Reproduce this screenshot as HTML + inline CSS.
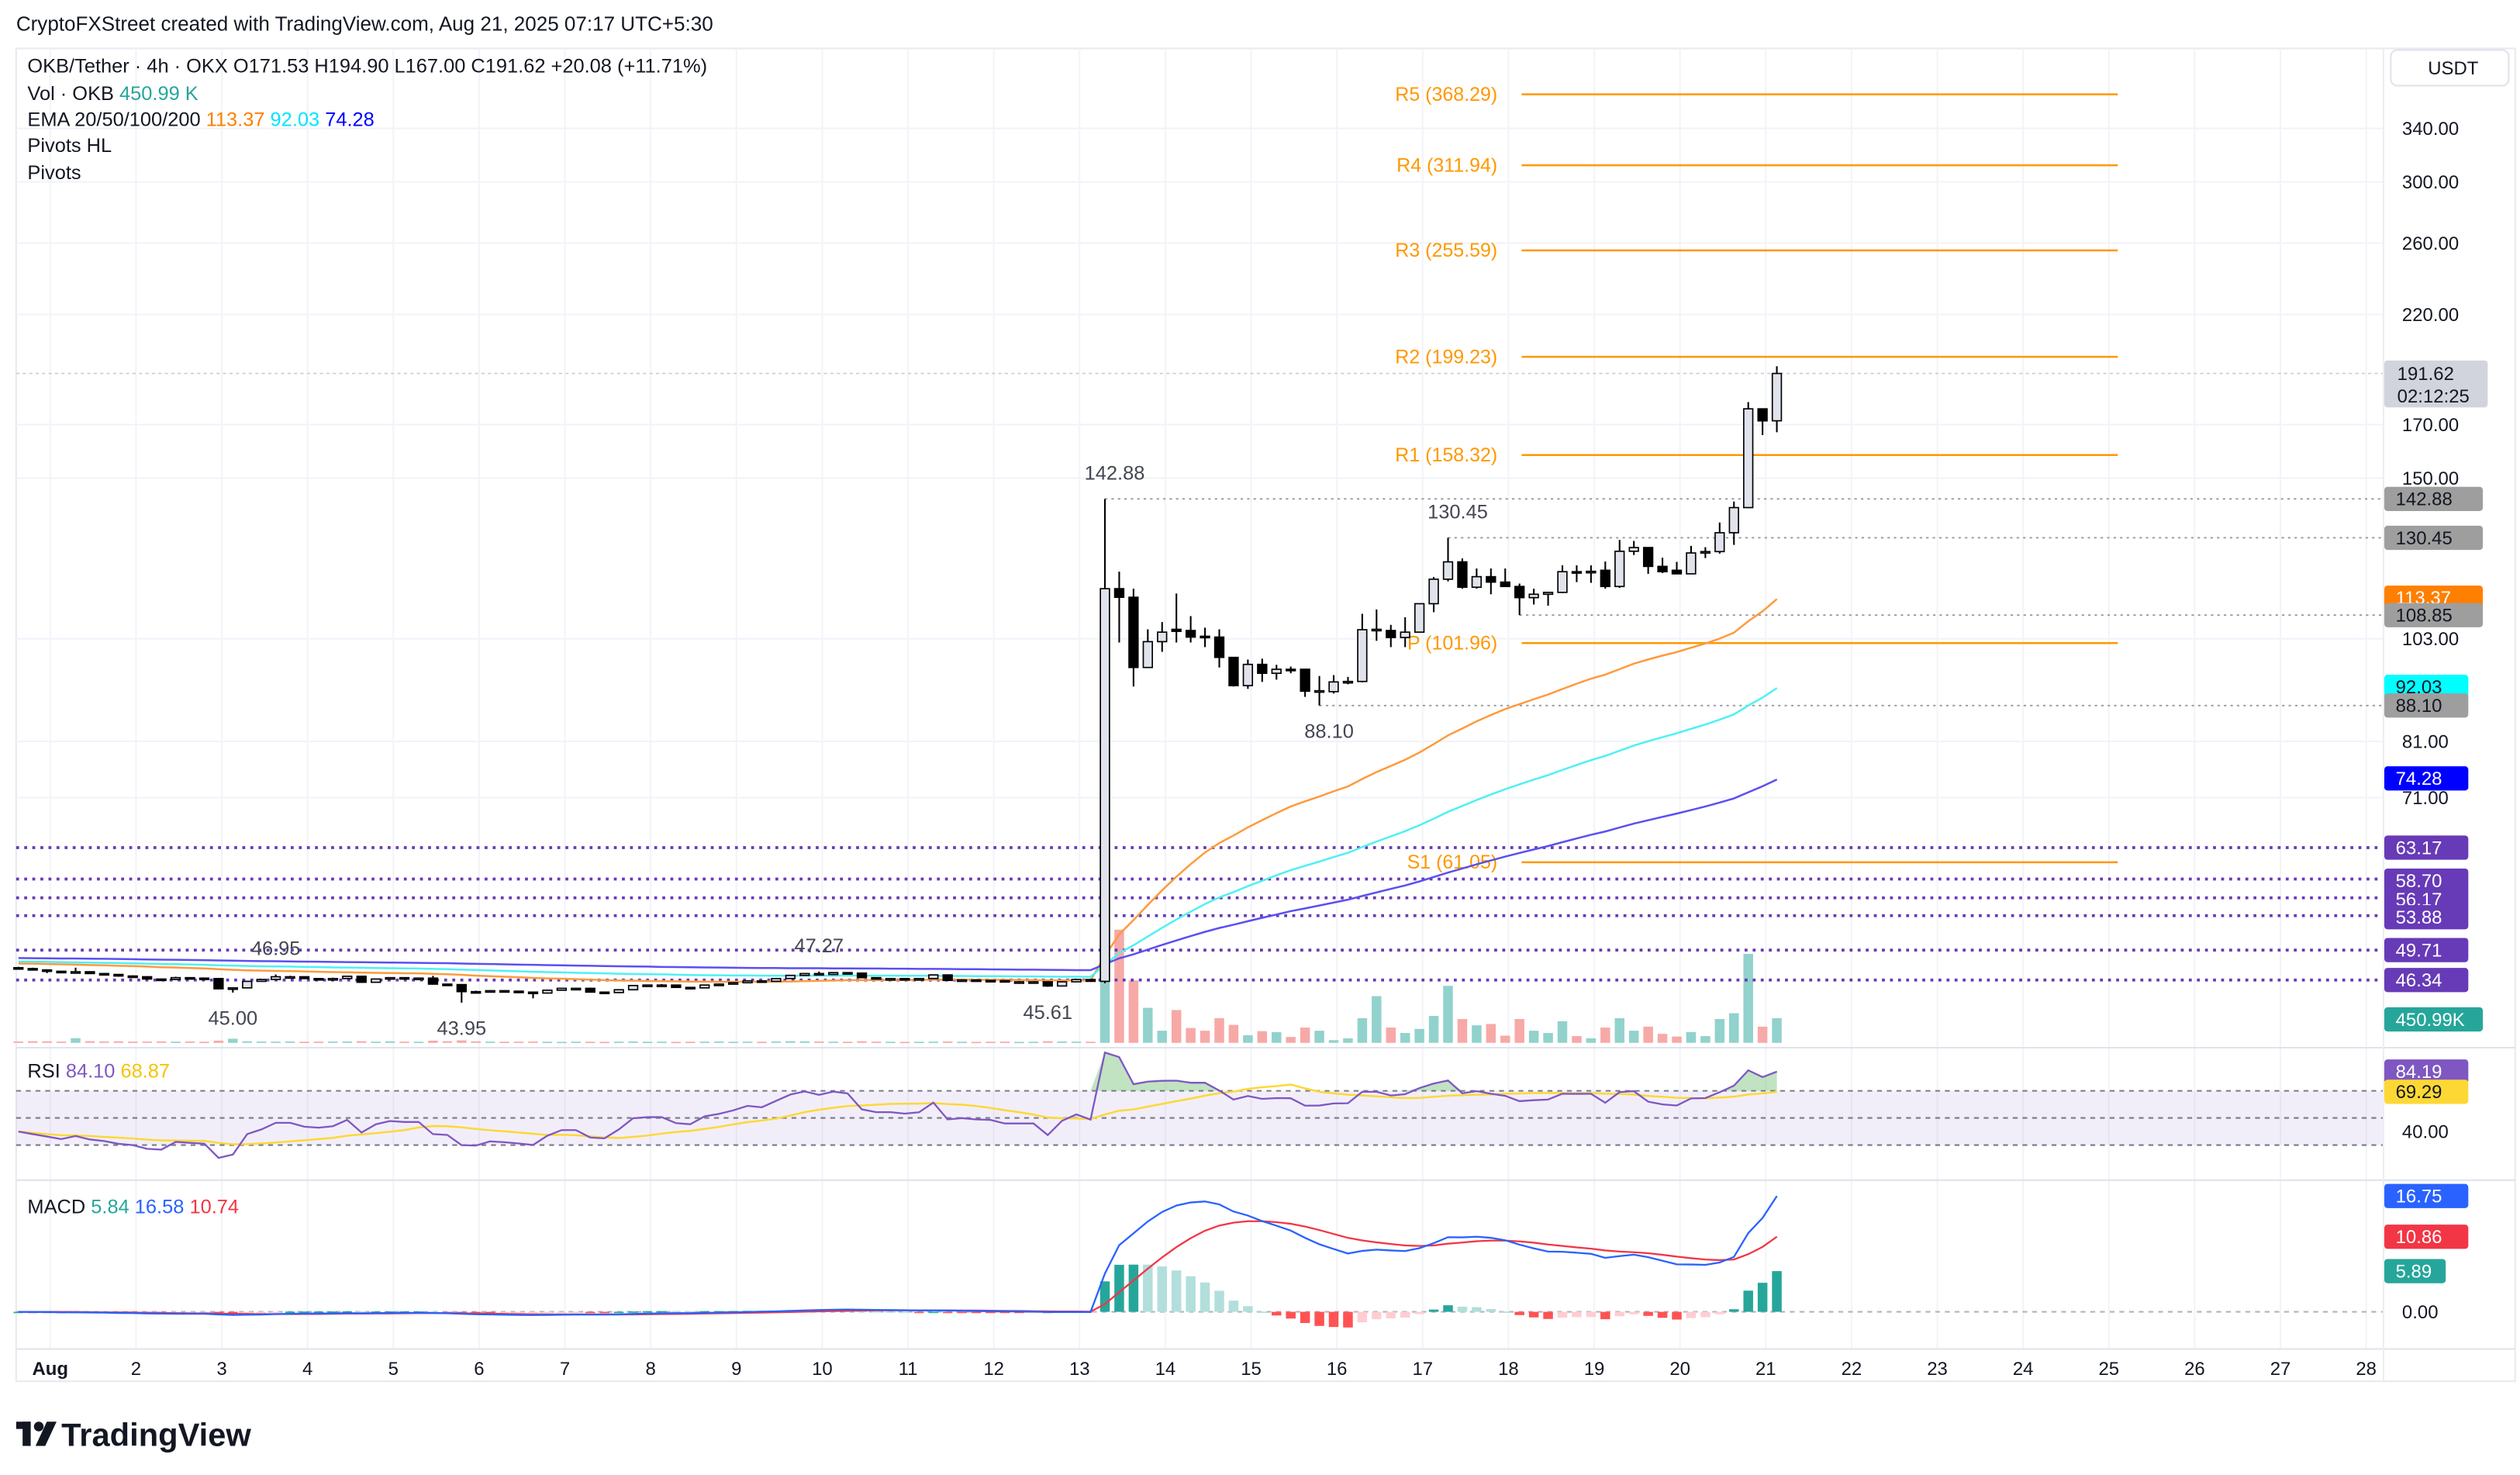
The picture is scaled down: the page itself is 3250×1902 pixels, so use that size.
<!DOCTYPE html>
<html><head><meta charset="utf-8"><style>
html,body{margin:0;padding:0;background:#fff;}
svg{display:block;font-family:"Liberation Sans",Arial,sans-serif;}
</style></head><body>
<svg id="chart" xmlns="http://www.w3.org/2000/svg" width="3250" height="1902" viewBox="0 0 1560 913" preserveAspectRatio="none">
<rect x="0" y="0" width="1560" height="913" fill="#ffffff"/>
<text x="10" y="19" font-size="12.5" fill="#131722">CryptoFXStreet created with TradingView.com, Aug 21, 2025 07:17 UTC+5:30</text>
<rect x="10" y="30" width="1547" height="825" fill="none" stroke="#e8eaf0" stroke-width="1"/>
<g id="grid"></g>
<g id="main"></g>
<g id="rsi"></g>
<g id="macd"></g>
<g id="axis"></g>
<g id="legend" font-size="12.2" fill="#131722">
<text x="17" y="45">OKB/Tether · 4h · OKX  O171.53  H194.90  L167.00  C191.62  +20.08 (+11.71%)</text>
<text x="17" y="62">Vol · OKB <tspan fill="#26a69a">450.99 K</tspan></text>
<text x="17" y="78">EMA 20/50/100/200 <tspan fill="#ff7f00">113.37</tspan> <tspan fill="#00e5ff">92.03</tspan> <tspan fill="#0000ff">74.28</tspan></text>
<text x="17" y="94">Pivots HL</text>
<text x="17" y="111">Pivots</text>
<text x="17" y="667">RSI <tspan fill="#7e57c2">84.10</tspan> <tspan fill="#f5c400">68.87</tspan></text>
<text x="17" y="751">MACD <tspan fill="#26a69a">5.84</tspan> <tspan fill="#2962ff">16.58</tspan> <tspan fill="#f23645">10.74</tspan></text>
</g>
<g>
<rect x="10" y="880" width="9" height="4.5" fill="#131722"/><rect x="14" y="880" width="5" height="15" fill="#131722"/>
<circle cx="24" cy="883" r="3" fill="#131722"/><polygon points="29,880 35,880 28,895 22,895" fill="#131722"/>
<text x="38" y="895" font-size="20" font-weight="bold" fill="#131722">TradingView</text>
</g>
<rect x="1480" y="31" width="73" height="22" rx="4" fill="#fff" stroke="#e0e3eb"/>
<text x="1503" y="46" font-size="11.5" fill="#131722">USDT</text>
</svg>
<script>
// ---- data ----
const preOpens=[47.7,47.6,47.45,47.3,47.15,47.25,47.05,46.95,46.78,46.7,46.45,46.4,46.6,46.55,46.5,45.4,45.5,46.2,46.4,46.7,46.7,46.5,46.45,46.5,46.75,46.1,46.45,46.6,46.55,46.55,45.9,45.85,45.1,45.05,45.2,45.15,45.05,44.95,45.25,45.45,45.45,45.05,45.0,45.3,45.75,45.8,45.8,45.55,45.5,45.8,45.9,46.05,46.25,46.2,46.5,46.85,47.05,46.95,47.15,47.1,46.6,46.5,46.5,46.45,46.5,46.9,46.3,46.35,46.3,46.28,46.15,46.15,46.15,45.7,46.15,46.4];
const preHighs=[47.8,47.7,47.5,47.35,47.7,47.3,47.1,47.0,46.85,46.75,46.5,46.7,46.65,46.6,46.5,45.55,46.25,46.45,46.95,46.8,46.75,46.55,46.6,46.8,46.8,46.5,46.65,46.65,46.6,46.8,45.95,45.9,45.2,45.25,45.25,45.2,45.1,45.3,45.5,45.5,45.5,45.1,45.35,45.8,45.85,45.9,45.85,45.6,45.85,45.95,46.1,46.3,46.3,46.55,46.9,47.1,47.27,47.2,47.2,47.15,46.65,46.55,46.55,46.55,46.95,46.95,46.4,46.4,46.35,46.3,46.2,46.2,46.2,46.2,46.45,46.45];
const preLows=[47.5,47.4,47.1,47.1,47.1,47.0,46.9,46.7,46.65,46.4,46.35,46.35,46.5,46.45,45.35,45.0,45.45,46.15,46.35,46.65,46.45,46.4,46.4,46.45,46.05,46.05,46.4,46.5,46.5,45.85,45.8,43.95,45.0,45.0,45.1,44.95,44.4,44.9,45.2,45.4,45.0,44.95,44.95,45.25,45.7,45.75,45.5,45.45,45.45,45.75,45.85,46.0,46.15,46.15,46.45,46.8,46.9,46.9,47.05,46.55,46.45,46.45,46.4,46.4,46.45,46.25,46.25,46.25,46.25,46.1,46.1,46.1,45.61,45.65,46.1,46.15];
const preCloses=[47.6,47.45,47.3,47.15,47.25,47.05,46.95,46.78,46.7,46.45,46.4,46.6,46.55,46.5,45.4,45.5,46.2,46.4,46.7,46.7,46.5,46.45,46.5,46.75,46.1,46.45,46.6,46.55,46.55,45.9,45.85,45.1,45.05,45.2,45.15,45.05,44.95,45.25,45.45,45.45,45.05,45.0,45.3,45.75,45.8,45.8,45.55,45.5,45.8,45.9,46.05,46.25,46.2,46.5,46.85,47.05,46.95,47.15,47.1,46.6,46.5,46.5,46.45,46.5,46.9,46.3,46.35,46.3,46.28,46.15,46.15,46.15,45.7,46.15,46.4,46.2];
const preVolumes=[25,30,28,22,85,30,25,28,22,24,26,22,25,20,40,75,28,24,22,25,20,22,24,25,30,22,28,22,20,40,30,45,28,22,20,22,25,20,18,22,20,18,22,25,20,22,18,20,22,25,20,22,20,25,30,28,25,22,20,30,22,20,18,20,22,25,20,18,20,22,18,20,30,25,22,20];
const postOpens=[46.2,115.8,113.5,96.3,102.3,105.3,105.0,103.6,103.4,98.6,92.3,97.0,95.0,95.9,95.9,91.1,91.0,93.1,93.2,105.2,105.0,103.3,104.6,111.8,118.4,123.3,116.2,119.1,117.6,116.4,113.4,114.3,114.8,120.5,120.4,120.9,116.4,126.4,127.5,122.0,120.9,119.9,125.9,126.3,132.0,140.0,176.4,171.53];
const postHighs=[142.88,120.5,115.8,105.3,107.1,114.5,108.6,105.7,105.3,98.6,98.1,98.3,96.9,96.5,96.0,94.4,94.6,94.2,109.2,110.3,106.4,108.3,111.8,119.0,130.45,124.3,121.4,121.4,121.4,117.2,115.8,114.8,122.3,122.3,122.3,123.4,129.8,129.5,127.6,124.5,123.3,128.0,127.6,135.2,142.0,179.2,176.4,194.9];
const postLows=[46.0,102.1,92.1,96.3,99.9,102.1,102.1,101.0,96.3,92.1,91.6,93.1,93.6,95.0,89.9,88.1,90.6,92.6,93.0,102.5,101.0,101.0,104.6,109.6,117.8,115.8,115.8,114.3,116.3,108.85,111.6,111.3,114.6,117.6,117.4,115.8,116.0,125.3,119.9,120.1,119.9,119.9,124.4,125.7,128.3,140.0,165.9,167.0];
const postCloses=[115.8,113.5,96.3,102.3,104.6,104.8,103.4,103.4,98.6,92.3,97.0,95.0,95.9,95.8,91.1,91.2,93.1,93.2,105.2,105.3,103.3,104.6,111.8,118.4,123.3,116.2,119.1,117.6,116.4,113.4,114.3,114.8,120.5,120.4,120.6,116.4,126.4,127.5,122.0,120.5,119.9,125.9,126.3,132.0,140.0,176.4,171.5,191.62];
const postVolumes=[4592,2066,1140,640,221,599,271,221,451,328,139,213,197,107,279,221,49,82,451,853,279,180,254,492,1041,435,320,344,131,435,221,180,394,123,82,279,451,221,295,164,115,197,123,435,541,1624,295,451];
const pivotNames=["R5","R4","R3","R2","R1","P","S1"];
const pivotValues=[368.29,311.94,255.59,199.23,158.32,101.96,61.05];
const hlLevels=[63.17,58.70,56.17,53.88,49.71,46.34];
const swingIdx=[18,15,31,56,72,76,91,100,105];
const swingVal=[46.95,45.00,43.95,47.27,45.61,142.88,88.10,130.45,108.85];
const swingHigh=[true,false,false,true,false,true,false,true,false];
const priceTicks=[340,300,260,220,170,150,103,81,71];
const dayLabels=["Aug","2","3","4","5","6","7","8","9","10","11","12","13","14","15","16","17","18","19","20","21","22","23","24","25","26","27","28"];
const emaPeriods=[50,100,200];
const emaSeeds=[48.2,48.4,48.8];
const emaColors=["#ff9a3c","#4ff0f5","#5b4ff0"];

const opens=preOpens.concat(postOpens), highs=preHighs.concat(postHighs), lows=preLows.concat(postLows), closes=preCloses.concat(postCloses), vols=preVolumes.concat(postVolumes);
const N=closes.length;
// ---- scales ----
const X0=11.4, STEP=8.85;
const xS=i=>X0+i*STEP;
const yP=p=>79.5+(Math.log(340)-Math.log(p))*264.5;
const yV=v=>645.5-v/29.5;
const yR=r=>692-(r-50)*0.84;
const yM=m=>812-m*4.28;
const NS="http://www.w3.org/2000/svg";
function mk(parent,tag,attrs){const e=document.createElementNS(NS,tag);for(const k in attrs)e.setAttribute(k,attrs[k]);parent.appendChild(e);return e;}
const grid=document.getElementById('grid'),main=document.getElementById('main'),rsiG=document.getElementById('rsi'),macdG=document.getElementById('macd'),axis=document.getElementById('axis');

// grid
priceTicks.forEach(p=>{const l=mk(grid,'line',{x1:10,x2:1475,y1:yP(p),y2:yP(p),stroke:'#f0f3fa','stroke-width':1});

});
dayLabels.forEach((d,k)=>{const x=xS(2+k*6)+2;const l=mk(grid,'line',{x1:x,x2:x,y1:30,y2:835,stroke:'#f3f4f8','stroke-width':1});

});
[648.5,730.5,835].forEach(y=>{const l=mk(grid,'line',{x1:10,x2:1557,y1:y,y2:y,stroke:'#e0e3eb','stroke-width':1});

});
mk(grid,'line',{x1:1475.5,x2:1475.5,y1:30,y2:855,stroke:'#eceef2','stroke-width':1});

// volume
for(let i=0;i<N;i++){const up=closes[i]>=opens[i];const r=mk(main,'rect',{x:xS(i)-3,y:yV(vols[i]),width:6,height:Math.max(0.8,645.5-yV(vols[i])),fill:up?'#92d2cc':'#f7a9a7'});

}

// HL dotted levels
hlLevels.forEach(v=>{const l=mk(main,'line',{x1:10,x2:1475,y1:yP(v),y2:yP(v),stroke:'#673ab7','stroke-width':1.8,'stroke-dasharray':'1.8 3.2'});

});
// current price line
{const l=mk(main,'line',{x1:10,x2:1475,y1:yP(closes[N-1]),y2:yP(closes[N-1]),stroke:'#c8cbd3','stroke-width':0.8,'stroke-dasharray':'2 2'});

}
swingIdx.forEach((ix,k)=>{if(ix<76)return;const l=mk(main,'line',{x1:xS(ix),x2:1475,y1:yP(swingVal[k]),y2:yP(swingVal[k]),stroke:'#9598a1','stroke-width':0.9,'stroke-dasharray':'1.5 2.5'});

});

// pivots
pivotValues.forEach((v,k)=>{const y=yP(v);const l=mk(main,'line',{x1:942,x2:1311,y1:y,y2:y,stroke:'#ff9800','stroke-width':1.2});


const t=mk(main,'text',{x:927,y:y+4,'font-size':12,fill:'#ff9800','text-anchor':'end'});t.textContent=pivotNames[k]+' ('+v.toFixed(2)+')';

});

// EMAs
emaPeriods.forEach((p,k)=>{const a=2/(p+1);let e=emaSeeds[k];let d='';for(let i=0;i<N;i++){e=e+a*(closes[i]-e);d+=(i?'L':'M')+xS(i).toFixed(1)+','+yP(e).toFixed(1);}
const path=mk(main,'path',{d:d,fill:'none',stroke:emaColors[k],'stroke-width':1.2});

});

// candles
for(let i=0;i<N;i++){const up=closes[i]>=opens[i];const x=xS(i);
const w=mk(main,'line',{x1:x,x2:x,y1:yP(highs[i]),y2:yP(lows[i]),stroke:'#000','stroke-width':1});


const top=yP(Math.max(opens[i],closes[i])),bot=yP(Math.min(opens[i],closes[i]));
const b=mk(main,'rect',{x:x-2.8,y:top,width:5.6,height:Math.max(0.9,bot-top),fill:up?'#e0e3eb':'#000',stroke:'#000','stroke-width':0.8});

}

// swing labels
swingIdx.forEach((ix,k)=>{if(ix===105)return;const y=swingHigh[k]?yP(swingVal[k])-12:yP(swingVal[k])+20;
const t=mk(main,'text',{x:xS(ix)+(ix>=76?6:0),y:y,'font-size':12.2,fill:'#434651','text-anchor':'middle'});t.textContent=swingVal[k].toFixed(2);

});

// RSI
mk(rsiG,'rect',{x:10,y:yR(70),width:1465,height:yR(30)-yR(70),fill:'#7e57c2','fill-opacity':0.1});
[70,50,30].forEach(v=>{const l=mk(rsiG,'line',{x1:10,x2:1475,y1:yR(v),y2:yR(v),stroke:'#787b86','stroke-width':1,'stroke-dasharray':'3 3'});

});
let ag=0.1,al=0.15;const rsi=[];
for(let i=0;i<N;i++){const ch=i?closes[i]-closes[i-1]:0;ag=(ag*13+Math.max(ch,0))/14;al=(al*13+Math.max(-ch,0))/14;rsi.push(100-100/(1+ag/al));}
const rsiSig=rsi.map((v,i)=>{const s=rsi.slice(Math.max(0,i-13),i+1);return s.reduce((a,b)=>a+b,0)/s.length;});
{let d='';rsi.forEach((v,i)=>{d+=(i?'L':'M')+xS(i).toFixed(1)+','+Math.min(yR(70),yR(v)).toFixed(1);});
d+='L'+xS(N-1)+','+yR(70)+'L'+xS(0)+','+yR(70)+'Z';const f=mk(rsiG,'path',{d:d,fill:'#4caf50','fill-opacity':0.35});

}
{let d='';rsiSig.forEach((v,i)=>{d+=(i?'L':'M')+xS(i).toFixed(1)+','+yR(v).toFixed(1);});const p=mk(rsiG,'path',{d:d,fill:'none',stroke:'#fdd835','stroke-width':1.2});

}
{let d='';rsi.forEach((v,i)=>{d+=(i?'L':'M')+xS(i).toFixed(1)+','+yR(v).toFixed(1);});const p=mk(rsiG,'path',{d:d,fill:'none',stroke:'#7e57c2','stroke-width':1.1});

}

// MACD
{const l=mk(macdG,'line',{x1:10,x2:1475,y1:yM(0),y2:yM(0),stroke:'#b2b5be','stroke-width':1,'stroke-dasharray':'3 3'});

}
let e12=closes[0],e26=closes[0],sg=0;const macd=[],sig=[],hist=[];
for(let i=0;i<N;i++){e12+=2/13*(closes[i]-e12);e26+=2/27*(closes[i]-e26);const m=e12-e26;sg+=0.2*(m-sg);macd.push(m);sig.push(sg);hist.push(m-sg);}
hist.forEach((h,i)=>{const prev=i?hist[i-1]:0;let c;if(h>=0)c=h>=prev?'#26a69a':'#b2dfdb';else c=h<prev?'#ff5252':'#ffcdd2';
const y1=Math.min(yM(0),yM(h)),hh=Math.max(0.8,Math.abs(yM(h)-yM(0)));const r=mk(macdG,'rect',{x:xS(i)-3,y:y1,width:6,height:hh,fill:c});

});
[[sig,'#f23645','macd-signal-line'],[macd,'#2962ff','macd-line']].forEach(([arr,col,nm])=>{let d='';arr.forEach((v,i)=>{d+=(i?'L':'M')+xS(i).toFixed(1)+','+yM(v).toFixed(1);});
const p=mk(macdG,'path',{d:d,fill:'none',stroke:col,'stroke-width':1.1});

});

// axis labels
priceTicks.forEach(p=>{const t=mk(axis,'text',{x:1487,y:yP(p)+4,'font-size':11.5,fill:'#131722'});t.textContent=p.toFixed(2);

});
[[40,yR(40)],[0,yM(0)]].forEach(([v,y])=>{const t=mk(axis,'text',{x:1487,y:y+4,'font-size':11.5,fill:'#131722'});t.textContent=v.toFixed(2);

});
dayLabels.forEach((d,k)=>{const t=mk(axis,'text',{x:xS(2+k*6)+2,y:851,'font-size':11.5,fill:'#131722','text-anchor':'middle','font-weight':k===0?'bold':'normal'});t.textContent=d;

});
function badge(y,text,bg,fg,w){const r=mk(axis,'rect',{x:1476,y:y-7.5,width:w,height:15,rx:2,fill:bg});


const t=mk(axis,'text',{x:1483,y:y+4,'font-size':11.5,fill:fg});t.textContent=text;

}
{const y=yP(closes[N-1]);const r=mk(axis,'rect',{x:1476,y:y-8,width:64,height:29,rx:2,fill:'#d1d4dc'});


const t=mk(axis,'text',{x:1484,y:y+4,'font-size':11.5,fill:'#131722'});t.textContent=closes[N-1].toFixed(2);
const t2=mk(axis,'text',{x:1484,y:y+18,'font-size':11.5,fill:'#131722'});t2.textContent='02:12:25';}
badge(yP(142.88),'142.88','#9e9e9e','#131722',61);
badge(yP(130.45),'130.45','#9e9e9e','#131722',61);
badge(yP(113.37),'113.37','#ff7f00','#fff',61);
badge(yP(108.85),'108.85','#9e9e9e','#131722',61);
badge(yP(92.03),'92.03','#00ffff','#131722',52);
badge(yP(88.10),'88.10','#9e9e9e','#131722',52);
badge(yP(74.28),'74.28','#0000ff','#fff',52);
hlLevels.forEach(v=>badge(yP(v)+(v<60&&v>50?1:0),v.toFixed(2),'#673ab7','#fff',52));
badge(631,'450.99K','#26a69a','#fff',61);
badge(yR(rsi[N-1]),rsi[N-1].toFixed(2),'#7e57c2','#fff',52);
badge(yR(rsiSig[N-1]),rsiSig[N-1].toFixed(2),'#fdd835','#131722',52);
badge(yM(macd[N-1]),macd[N-1].toFixed(2),'#2962ff','#fff',52);
badge(yM(sig[N-1]),sig[N-1].toFixed(2),'#f23645','#fff',52);
badge(yM(hist[N-1]),hist[N-1].toFixed(2),'#26a69a','#fff',38);
</script>
</body></html>
